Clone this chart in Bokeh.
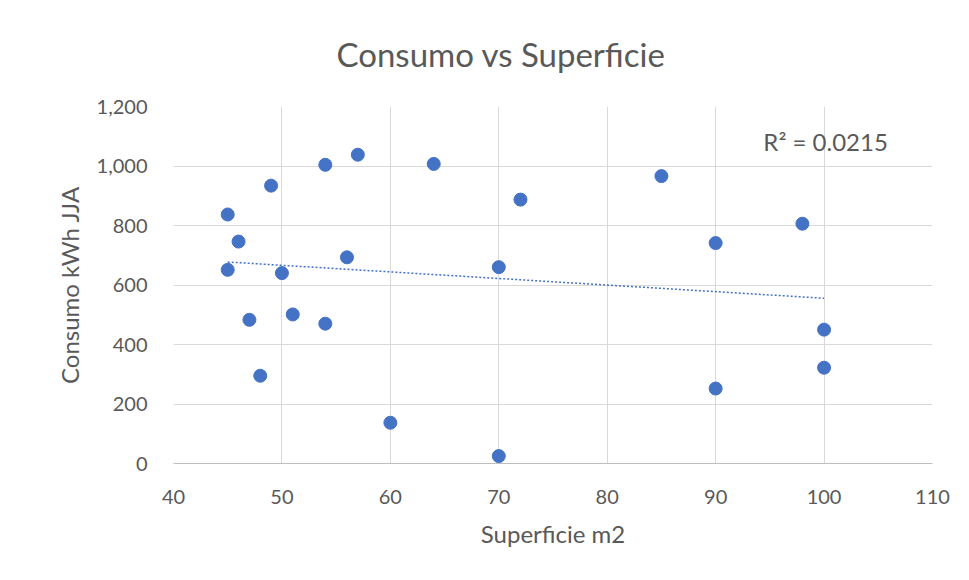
import numpy as np
from bokeh.plotting import figure
from bokeh.models import Range1d, FixedTicker, NumeralTickFormatter, Label, Title
from bokeh.embed import file_html
from bokeh.resources import INLINE

# Surface (m2) and June-July-August consumption (kWh) per dwelling
superficie = [45, 45, 46, 47, 48, 49, 50, 51, 54, 54, 56, 57, 60, 64,
              70, 70, 72, 85, 90, 90, 98, 100, 100]
consumo = [837, 651, 746, 483, 295, 934, 640, 501, 1004, 470, 693, 1038, 137, 1007,
           660, 25, 887, 966, 741, 252, 806, 450, 322]

x_ticks = [40, 50, 60, 70, 80, 90, 100, 110]
y_ticks = [0, 200, 400, 600, 800, 1000, 1200]

FONT = "Lato"
TEXT = "#595959"
GRID = "#d9d9d9"
BLUE = "#4472C4"

p = figure(
    frame_width=759, frame_height=357,
    min_border_left=173, min_border_right=37,
    min_border_top=106, min_border_bottom=117,
    x_range=Range1d(40, 110), y_range=Range1d(0, 1200),
    output_backend="svg", toolbar_location=None,
    title="Consumo vs Superficie",
)
p.background_fill_color = "white"
p.border_fill_color = "white"
p.outline_line_color = None

# Title is centred over the whole chart area, not just the plot frame
p.title.align = "left"
p.title.offset = 163
p.title.text_font = FONT
p.title.text_font_size = "33px"
p.title.text_font_style = "normal"
p.title.text_color = TEXT

# blank band between the title and the plot frame
p.add_layout(Title(text=" ", text_font_size="14px"), "above")

p.xaxis.ticker = FixedTicker(ticks=x_ticks)
p.yaxis.ticker = FixedTicker(ticks=y_ticks)
p.yaxis.formatter = NumeralTickFormatter(format="0,0")

for ax in (p.xaxis, p.yaxis):
    ax.major_tick_line_color = None
    ax.minor_tick_line_color = None
    ax.major_label_text_font = FONT
    ax.major_label_text_font_size = "20px"
    ax.major_label_text_color = TEXT
    ax.axis_label_text_font = FONT
    ax.axis_label_text_font_size = "24px"
    ax.axis_label_text_font_style = "normal"
    ax.axis_label_text_color = TEXT

p.xaxis.axis_line_color = "#bfbfbf"
p.yaxis.axis_line_color = None
p.xaxis.major_label_standoff = 20
p.yaxis.major_label_standoff = 20
p.xaxis.axis_label = "Superficie m2"
p.yaxis.axis_label = "Consumo kWh JJA"
p.xaxis.axis_label_standoff = 12
p.yaxis.axis_label_standoff = 10

p.xgrid.grid_line_color = GRID
p.ygrid.grid_line_color = GRID
p.xgrid.grid_line_width = 1
p.ygrid.grid_line_width = 1

# Linear trendline over the span of the data
slope, intercept = np.polyfit(superficie, consumo, 1)
tx = [min(superficie), max(superficie)]
ty = [slope * v + intercept for v in tx]
p.line(tx, ty, line_color=BLUE, line_width=1.5, line_dash="2 2")

p.scatter(superficie, consumo, size=13, fill_color=BLUE, line_color=BLUE)

p.add_layout(Label(x=94.4, y=1082, text="R² = 0.0215", text_font=FONT,
                   text_font_size="24px", text_color=TEXT,
                   text_baseline="middle", text_align="left"))

open("out.html", "w").write(file_html(p, INLINE))
